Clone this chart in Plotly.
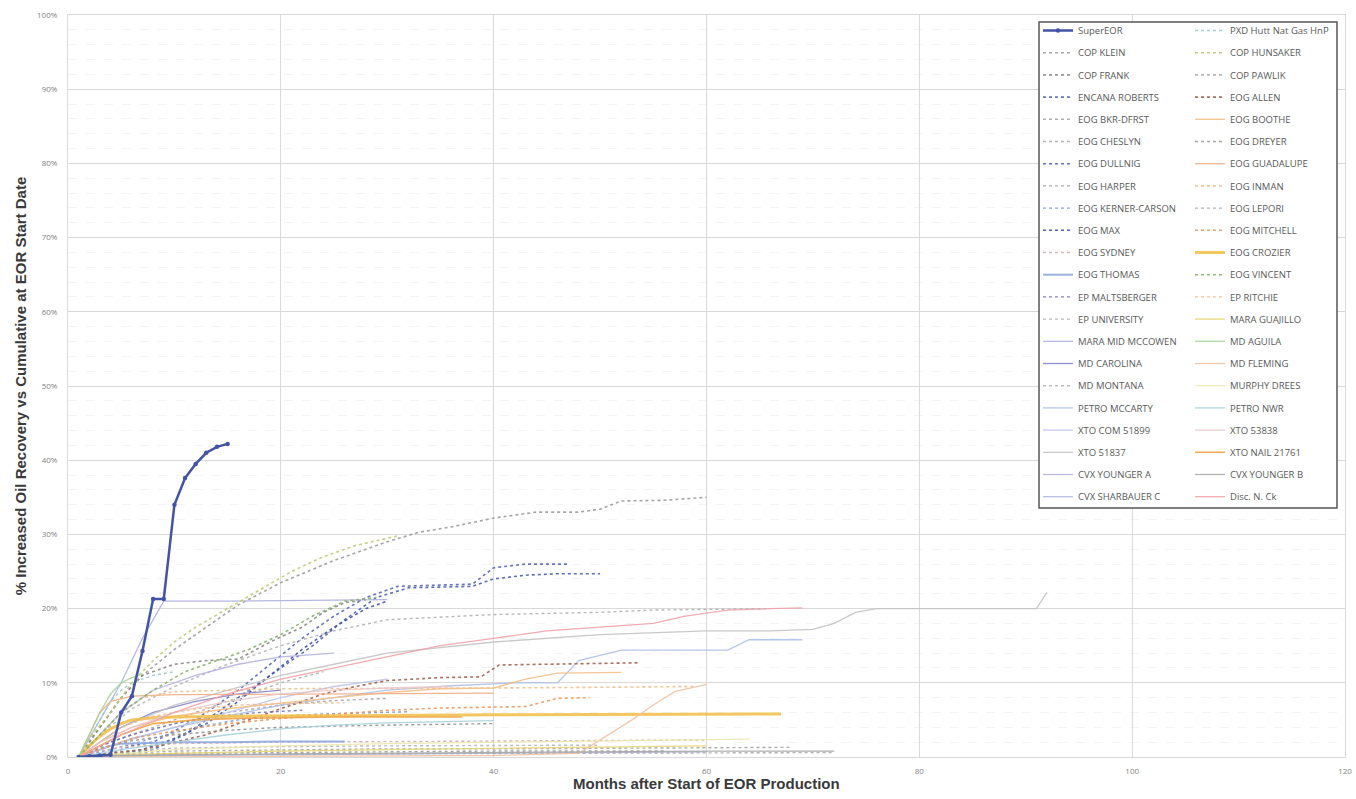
import plotly.graph_objects as go

# ---------------- data (months, % increased recovery) ----------------
SuperEOR_X = [1, 2, 3, 4, 5, 6, 7, 8, 9, 10, 11, 12, 13, 14, 15]
SuperEOR_Y = [0, 0.1, 0.2, 0.3, 6.0, 8.2, 14.3, 21.3, 21.3, 34.0, 37.6, 39.5, 41.0, 41.8, 42.2]

PXD_HUTT_X = [1, 2, 3, 4, 5, 6, 8, 10]
PXD_HUTT_Y = [0, 2.5, 5, 7.5, 9, 10, 11, 11.5]

COP_KLEIN_X = [1, 2, 3, 5, 7, 10, 13, 16, 20, 25, 30, 33, 36, 40, 44, 48, 50, 52, 56, 60]
COP_KLEIN_Y = [0, 2, 4, 8, 11, 14.5, 17.5, 20.5, 23.5, 26.5, 29, 30.3, 31, 32.2, 33, 33, 33.4, 34.5, 34.6, 35]

COP_HUNSAKER_X = [1, 2, 4, 6, 8, 10, 12, 15, 18, 21, 24, 27, 31]
COP_HUNSAKER_Y = [0, 2.5, 6, 10, 13, 15.5, 17.5, 20, 22.5, 25, 27, 28.5, 29.8]

COP_FRANK_X = [1, 3, 5, 7, 10, 13, 16, 19, 22, 24, 26, 28]
COP_FRANK_Y = [0, 4, 8, 11, 12.5, 13, 13.2, 15.5, 17.5, 19.5, 20.8, 21.2]

COP_PAWLIK_X = [1, 3, 6, 10, 15, 20, 30, 40]
COP_PAWLIK_Y = [0, 1.2, 2.2, 3, 3.6, 4, 4.3, 4.5]

ENCANA_ROBERTS_X = [1, 4, 6, 8, 10, 13, 16, 19, 22, 25, 28, 31, 35, 38, 40, 43, 47]
ENCANA_ROBERTS_Y = [0, 0.5, 1.5, 2, 3.5, 6, 9, 12.5, 16, 19, 21.5, 23, 23.2, 23.3, 25.5, 26, 26]

EOG_ALLEN_X = [1, 4, 7, 10, 13, 16, 19, 22, 24, 27, 30, 35, 38.8, 40.5, 45, 50, 53.8]
EOG_ALLEN_Y = [0, 0.5, 1, 2, 3, 4.5, 6, 7.5, 8.5, 9.5, 10.3, 10.7, 10.8, 12.4, 12.5, 12.6, 12.7]

EOG_BKR_DFRST_X = [1, 3, 6, 10, 15, 20, 25, 30]
EOG_BKR_DFRST_Y = [0, 1.5, 3, 4.5, 6, 7, 7.6, 7.9]

EOG_BOOTHE_X = [1, 3, 6, 10, 15, 20, 25, 30, 35, 40, 43, 46, 52]
EOG_BOOTHE_Y = [0, 2, 4, 5.5, 6.5, 7.3, 8, 8.7, 9.2, 9.3, 10.5, 11.3, 11.4]

EOG_CHESLYN_X = [1, 4, 8, 12, 16, 20, 24]
EOG_CHESLYN_Y = [0, 2, 4, 6, 8, 10, 11.5]

EOG_DREYER_X = [1, 5, 10, 20, 30, 40, 56]
EOG_DREYER_Y = [0, 0.3, 0.5, 0.6, 0.7, 0.8, 0.8]

EOG_DULLNIG_X = [1, 5, 8, 11, 14, 17, 20, 23, 26, 29, 32, 36, 38, 40, 43, 46, 50]
EOG_DULLNIG_Y = [0, 0.5, 1, 3, 6, 9, 12, 15, 18.5, 21.5, 22.8, 23, 23, 24, 24.5, 24.7, 24.7]

EOG_GUADALUPE_X = [1, 2, 3, 4, 6, 10, 20, 30, 40]
EOG_GUADALUPE_Y = [0, 3, 6, 7.5, 8.2, 8.4, 8.5, 8.5, 8.6]

EOG_HARPER_X = [1, 5, 10, 20, 30, 40, 50, 60, 68]
EOG_HARPER_Y = [0, 0.5, 0.8, 1, 1.1, 1.1, 1.2, 1.2, 1.3]

EOG_INMAN_X = [1, 3, 5, 7, 10, 20, 30, 40, 50, 59]
EOG_INMAN_Y = [0, 3, 6, 8, 8.8, 9.2, 9.3, 9.3, 9.4, 9.5]

EOG_KERNER_CARSON_X = [1, 4, 8, 12, 16, 20, 24, 28, 32]
EOG_KERNER_CARSON_Y = [0, 1, 2.5, 4, 5, 5.5, 5.8, 6, 6.1]

EOG_LEPORI_X = [1, 10, 20, 40, 60, 72]
EOG_LEPORI_Y = [0, 0.3, 0.4, 0.5, 0.6, 0.6]

EOG_MAX_X = [1, 4, 7, 10, 13, 16, 19, 22, 25, 28, 30]
EOG_MAX_Y = [0, 0.3, 1, 2.5, 4.5, 7.5, 11, 14.5, 17.5, 20, 21]

EOG_MITCHELL_X = [1, 3, 6, 10, 15, 20, 25, 30, 35, 40, 43, 46, 49]
EOG_MITCHELL_Y = [0, 1, 2.5, 3.5, 4.5, 5.2, 5.8, 6.3, 6.6, 6.7, 6.8, 7.9, 8.0]

EOG_SYDNEY_X = [1, 3, 5, 10, 20, 30, 40, 50, 60]
EOG_SYDNEY_Y = [0, 0.8, 1.3, 1.8, 2, 2.1, 2.2, 2.2, 2.3]

EOG_CROZIER_X = [1, 2, 3, 4, 5, 6, 8, 10, 15, 20, 30, 40, 50, 60, 67]
EOG_CROZIER_Y = [0, 1.5, 2.8, 3.8, 4.5, 5, 5.3, 5.4, 5.5, 5.5, 5.6, 5.7, 5.7, 5.8, 5.8]

EOG_THOMAS_X = [1, 2, 3, 4, 5, 10, 15, 20, 26]
EOG_THOMAS_Y = [0, 0.5, 1, 1.5, 1.8, 2, 2, 2.1, 2.1]

EOG_VINCENT_X = [1, 3, 5, 8, 11, 14, 17, 20, 23, 26, 29]
EOG_VINCENT_Y = [0, 3, 6, 9, 11.5, 13, 14.5, 16.5, 19, 21, 21.5]

EP_MALTSBERGER_X = [1, 3, 6, 10, 14, 18, 22]
EP_MALTSBERGER_Y = [0, 1.5, 3, 4.5, 5.5, 6, 6.3]

EP_RITCHIE_X = [1, 3, 5, 8, 12, 16, 20, 26]
EP_RITCHIE_Y = [0, 2, 4, 5.5, 6.5, 7, 7.2, 7.3]

EP_UNIVERSITY_X = [1, 3, 6, 10, 15, 20, 25, 30, 40, 50, 55, 60, 66]
EP_UNIVERSITY_Y = [0, 3, 6.5, 9.5, 12.5, 15, 17, 18.5, 19.2, 19.5, 19.8, 19.9, 20]

MARA_GUAJILLO_X = [1, 5, 10, 20, 30, 40, 60]
MARA_GUAJILLO_Y = [0, 0.3, 0.5, 0.8, 1.0, 1.2, 1.5]

MARA_MID_MCCOWEN_X = [1, 3, 5, 7, 9, 15, 20, 25, 30]
MARA_MID_MCCOWEN_Y = [0, 5, 10, 16, 21, 21, 21.1, 21.2, 21.2]

MD_AGUILA_X = [1, 2, 3, 4, 5, 6, 7]
MD_AGUILA_Y = [0, 3, 6, 8.5, 10, 10.7, 11.2]

MD_CAROLINA_X = [1, 3, 5, 8, 12, 16, 20]
MD_CAROLINA_Y = [0, 2, 4, 6, 7.5, 8.5, 9]

MD_FLEMING_X = [1, 20, 40, 48, 51, 53, 55, 57, 60]
MD_FLEMING_Y = [0, 0.1, 0.2, 0.5, 3.2, 5, 7, 8.8, 9.8]

MD_MONTANA_X = [1, 5, 10, 20, 30, 40, 50]
MD_MONTANA_Y = [0, 0.8, 1.2, 1.4, 1.5, 1.5, 1.6]

MURPHY_DREES_X = [1, 5, 10, 20, 30, 40, 50, 60, 64]
MURPHY_DREES_Y = [0, 0.5, 1, 1.5, 1.8, 2, 2.2, 2.3, 2.4]

PETRO_MCCARTY_X = [1, 5, 10, 15, 20, 25, 30, 36, 42, 46, 48, 52, 62, 64, 69]
PETRO_MCCARTY_Y = [0, 2, 4, 5.5, 7, 8, 9, 9.6, 10, 10, 13, 14.4, 14.4, 15.8, 15.8]

PETRO_NWR_X = [1, 5, 10, 15, 20, 25, 30, 35, 40]
PETRO_NWR_Y = [0, 1, 2, 3, 3.8, 4.3, 4.6, 4.8, 4.9]

XTO_COM_51899_X = [1, 3, 6, 10, 15, 20, 25, 30]
XTO_COM_51899_Y = [0, 1, 2.5, 4, 6, 8, 9.5, 10.5]

XTO_53838_X = [1, 3, 6, 10, 15, 20, 25, 30, 36]
XTO_53838_Y = [0, 2, 4, 6, 7.5, 8.5, 9, 9.3, 9.5]

XTO_51837_X = [1, 5, 10, 15, 20, 25, 30, 40, 50, 60, 66, 70, 72, 74, 76, 80, 91, 92]
XTO_51837_Y = [0, 4, 7, 9, 11, 12.5, 14, 15.5, 16.5, 17, 17, 17.2, 18, 19.5, 20, 20, 20, 22.2]

XTO_NAIL_21761_X = [1, 3, 5, 8, 12, 16, 20, 25, 30, 37]
XTO_NAIL_21761_Y = [0, 1.5, 3, 4.5, 5, 5.2, 5.3, 5.4, 5.4, 5.4]

CVX_YOUNGER_A_X = [1, 3, 5, 8, 12, 16, 20, 25]
CVX_YOUNGER_A_Y = [0, 3, 6, 9, 11, 12.5, 13.5, 14]

CVX_YOUNGER_B_X = [1, 5, 10, 20, 30, 40, 50, 60, 72]
CVX_YOUNGER_B_Y = [0, 0.2, 0.3, 0.4, 0.5, 0.6, 0.7, 0.8, 0.8]

CVX_SHARBAUER_C_X = [1, 10, 20, 30, 40, 50, 60]
CVX_SHARBAUER_C_Y = [0, 0.2, 0.3, 0.4, 0.5, 0.6, 0.7]

DISC_N_CK_X = [1, 5, 10, 15, 20, 25, 30, 35, 40, 45, 50, 55, 58, 62, 66, 69]
DISC_N_CK_Y = [0, 3, 6, 8.5, 10.5, 12, 13.5, 15, 16, 17, 17.5, 18, 19, 19.8, 20, 20.1]

X_TICKS = [0, 20, 40, 60, 80, 100, 120]
Y_TICKS = [0, 10, 20, 30, 40, 50, 60, 70, 80, 90, 100]
Y_TICK_TEXT = [f"{v}%" for v in Y_TICKS]

# legend columns (name, x, y, color, dash, width)
COLUMN_1 = [
    ("SuperEOR", SuperEOR_X, SuperEOR_Y, "#4353A6", "solid", 2.5),
    ("COP KLEIN", COP_KLEIN_X, COP_KLEIN_Y, "#9C9C9C", "dot", 1.6),
    ("COP FRANK", COP_FRANK_X, COP_FRANK_Y, "#8A8A8A", "dot", 1.6),
    ("ENCANA ROBERTS", ENCANA_ROBERTS_X, ENCANA_ROBERTS_Y, "#5567B8", "dot", 1.6),
    ("EOG BKR-DFRST", EOG_BKR_DFRST_X, EOG_BKR_DFRST_Y, "#A6A6A6", "dot", 1.4),
    ("EOG CHESLYN", EOG_CHESLYN_X, EOG_CHESLYN_Y, "#ABABAB", "dot", 1.4),
    ("EOG DULLNIG", EOG_DULLNIG_X, EOG_DULLNIG_Y, "#4C60B3", "dot", 1.6),
    ("EOG HARPER", EOG_HARPER_X, EOG_HARPER_Y, "#A3A3A3", "dot", 1.4),
    ("EOG KERNER-CARSON", EOG_KERNER_CARSON_X, EOG_KERNER_CARSON_Y, "#8393CC", "dot", 1.4),
    ("EOG MAX", EOG_MAX_X, EOG_MAX_Y, "#3D4FA3", "dot", 1.6),
    ("EOG SYDNEY", EOG_SYDNEY_X, EOG_SYDNEY_Y, "#D2AFAF", "dot", 1.4),
    ("EOG THOMAS", EOG_THOMAS_X, EOG_THOMAS_Y, "#8FAADC", "solid", 2.0),
    ("EP MALTSBERGER", EP_MALTSBERGER_X, EP_MALTSBERGER_Y, "#7474BC", "dot", 1.4),
    ("EP UNIVERSITY", EP_UNIVERSITY_X, EP_UNIVERSITY_Y, "#B2B2B2", "dot", 1.4),
    ("MARA MID MCCOWEN", MARA_MID_MCCOWEN_X, MARA_MID_MCCOWEN_Y, "#AEB0E0", "solid", 1.3),
    ("MD CAROLINA", MD_CAROLINA_X, MD_CAROLINA_Y, "#8585CC", "solid", 1.3),
    ("MD MONTANA", MD_MONTANA_X, MD_MONTANA_Y, "#B5B5B5", "dot", 1.4),
    ("PETRO MCCARTY", PETRO_MCCARTY_X, PETRO_MCCARTY_Y, "#AFC0E8", "solid", 1.3),
    ("XTO COM 51899", XTO_COM_51899_X, XTO_COM_51899_Y, "#BCC6EA", "solid", 1.3),
    ("XTO 51837", XTO_51837_X, XTO_51837_Y, "#C4C4C4", "solid", 1.3),
    ("CVX YOUNGER A", CVX_YOUNGER_A_X, CVX_YOUNGER_A_Y, "#B3B3E0", "solid", 1.3),
    ("CVX SHARBAUER C", CVX_SHARBAUER_C_X, CVX_SHARBAUER_C_Y, "#B0B6E2", "solid", 1.3),
]
COLUMN_2 = [
    ("PXD Hutt Nat Gas HnP", PXD_HUTT_X, PXD_HUTT_Y, "#92CFCB", "dot", 1.4),
    ("COP HUNSAKER", COP_HUNSAKER_X, COP_HUNSAKER_Y, "#C3CC72", "dot", 1.6),
    ("COP PAWLIK", COP_PAWLIK_X, COP_PAWLIK_Y, "#909090", "dot", 1.4),
    ("EOG ALLEN", EOG_ALLEN_X, EOG_ALLEN_Y, "#A4604C", "dot", 1.6),
    ("EOG BOOTHE", EOG_BOOTHE_X, EOG_BOOTHE_Y, "#F4C088", "solid", 1.4),
    ("EOG DREYER", EOG_DREYER_X, EOG_DREYER_Y, "#9C9C9C", "dot", 1.4),
    ("EOG GUADALUPE", EOG_GUADALUPE_X, EOG_GUADALUPE_Y, "#F0AE84", "solid", 1.3),
    ("EOG INMAN", EOG_INMAN_X, EOG_INMAN_Y, "#F3C08A", "dot", 1.6),
    ("EOG LEPORI", EOG_LEPORI_X, EOG_LEPORI_Y, "#ABABAB", "dot", 1.4),
    ("EOG MITCHELL", EOG_MITCHELL_X, EOG_MITCHELL_Y, "#E9985C", "dot", 1.6),
    ("EOG CROZIER", EOG_CROZIER_X, EOG_CROZIER_Y, "#F2C24F", "solid", 3.0),
    ("EOG VINCENT", EOG_VINCENT_X, EOG_VINCENT_Y, "#86B365", "dot", 1.6),
    ("EP RITCHIE", EP_RITCHIE_X, EP_RITCHIE_Y, "#F5B98D", "dot", 1.4),
    ("MARA GUAJILLO", MARA_GUAJILLO_X, MARA_GUAJILLO_Y, "#E6D66E", "solid", 1.3),
    ("MD AGUILA", MD_AGUILA_X, MD_AGUILA_Y, "#A6D49A", "solid", 1.3),
    ("MD FLEMING", MD_FLEMING_X, MD_FLEMING_Y, "#F2C2A4", "solid", 1.3),
    ("MURPHY DREES", MURPHY_DREES_X, MURPHY_DREES_Y, "#EDE8AE", "solid", 1.3),
    ("PETRO NWR", PETRO_NWR_X, PETRO_NWR_Y, "#A7D2DC", "solid", 1.3),
    ("XTO 53838", XTO_53838_X, XTO_53838_Y, "#EBC9C9", "solid", 1.3),
    ("XTO NAIL 21761", XTO_NAIL_21761_X, XTO_NAIL_21761_Y, "#F0A446", "solid", 1.6),
    ("CVX YOUNGER B", CVX_YOUNGER_B_X, CVX_YOUNGER_B_Y, "#A8A8A8", "solid", 1.3),
    ("Disc. N. Ck", DISC_N_CK_X, DISC_N_CK_Y, "#F0A3AA", "solid", 1.3),
]

fig = go.Figure()

def add(entry, legend, rank):
    name, xs, ys, color, dash, width = entry
    is_super = name == "SuperEOR"
    fig.add_trace(go.Scatter(
        x=xs, y=ys, name=name, mode="lines+markers" if is_super else "lines",
        line=dict(color=color, dash=dash, width=width),
        marker=dict(size=4.5, color=color) if is_super else None,
        legend=legend, legendgroup=name, legendrank=rank,
        opacity=1.0 if is_super else 0.9,
    ))

traces = []
for i, e in enumerate(COLUMN_1):
    traces.append((e, "legend", i))
for i, e in enumerate(COLUMN_2):
    traces.append((e, "legend2", i))
# draw SuperEOR last so it sits on top
traces.sort(key=lambda t: t[0][0] == "SuperEOR")
for e, lg, r in traces:
    add(e, lg, r)

L, R, T, B = 68, 11, 15, 42
W, H = 1356, 799
pw, ph = W - L - R, H - T - B

def px_x(px):
    return (px - L) / pw

def px_y(py):
    return (H - B - py) / ph

legend_font = dict(family="Open Sans, Arial, sans-serif", size=9.5, color="#595959")
title_font = dict(family="Liberation Sans, Arial, sans-serif", size=15, color="#3A3A3A")

fig.update_layout(
    width=W, height=H,
    margin=dict(l=L, r=R, t=T, b=B, autoexpand=False),
    paper_bgcolor="white", plot_bgcolor="white",
    showlegend=True,
    legend=dict(x=px_x(1038), y=px_y(16), xanchor="left", yanchor="top",
                bgcolor="rgba(0,0,0,0)", font=legend_font,
                traceorder="grouped", tracegroupgap=3.2, itemwidth=30),
    legend2=dict(x=px_x(1190), y=px_y(16), xanchor="left", yanchor="top",
                 bgcolor="rgba(0,0,0,0)", font=legend_font,
                 traceorder="grouped", tracegroupgap=3.2, itemwidth=30),
    shapes=[dict(type="rect", xref="paper", yref="paper",
                 x0=px_x(1039), x1=px_x(1337), y0=px_y(508), y1=px_y(22),
                 line=dict(color="#555555", width=1.5), fillcolor="white",
                 layer="above")],
    annotations=[dict(text="<b>Months after Start of EOR Production</b>",
                      xref="paper", yref="paper", x=0.5, y=px_y(784),
                      xanchor="center", yanchor="middle", showarrow=False,
                      font=title_font)],
)

fig.update_xaxes(
    range=[0, 120], tickvals=X_TICKS, ticktext=[str(v) for v in X_TICKS],
    showgrid=True, gridcolor="#D9D9D9", gridwidth=1, automargin=False,
    showline=True, linecolor="#D9D9D9", mirror=True, zeroline=False,
    ticks="", ticklabelstandoff=6,
    tickfont=dict(family="Open Sans, Arial, sans-serif", size=8, color="#7F7F7F"),
)
fig.update_yaxes(
    range=[0, 100], tickvals=Y_TICKS, ticktext=Y_TICK_TEXT,
    showgrid=True, gridcolor="#D9D9D9", gridwidth=1, automargin=False,
    minor=dict(dtick=2, showgrid=True, gridcolor="#F4F4F4", gridwidth=1, griddash="dash"),
    showline=True, linecolor="#D9D9D9", mirror=True, zeroline=False,
    ticks="", ticklabelstandoff=8,
    tickfont=dict(family="Open Sans, Arial, sans-serif", size=8, color="#7F7F7F"),
    title=dict(text="<b>% Increased Oil Recovery vs Cumulative at EOR Start Date</b>", standoff=6,
               font=title_font),
)

fig.write_html("out.html", config={"displayModeBar": False},
               post_script="document.body.style.margin='0';")
